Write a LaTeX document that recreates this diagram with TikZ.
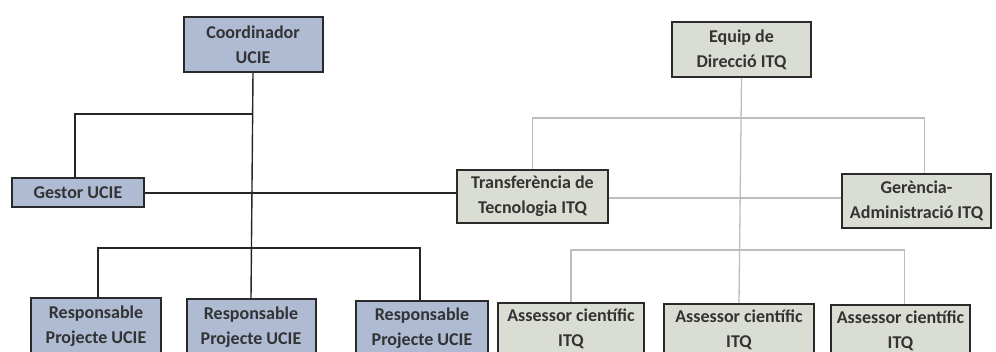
\documentclass[tikz,border=0pt]{standalone}
\usepackage{fontspec}
\setmainfont{Carlito}
\definecolor{bluefill}{HTML}{AEBBD3}
\definecolor{greyfill}{HTML}{D9DDD3}
\definecolor{greyline}{HTML}{BDBDBD}
\definecolor{boxedge}{HTML}{2A2A2A}
\begin{document}
\begin{tikzpicture}[x=1pt,y=-1pt,
  box/.style={draw=boxedge,line width=2pt,align=center,inner sep=0pt,
    font=\fontsize{18}{25}\selectfont\bfseries,text=black!80},
  ucie/.style={box,fill=bluefill},
  itq/.style={box,fill=greyfill},
  darkline/.style={draw=black!85,line width=1.4pt},
  lightline/.style={draw=greyline,line width=1.3pt}]
\clip (0,0) rectangle (996,352);
\fill[white] (0,0) rectangle (996,352);
% left side nodes
\node[ucie,minimum width=139pt,minimum height=55pt] (coord) at (253,44.5) {Coordinador\\UCIE};
\node[ucie,minimum width=132pt,minimum height=29pt] (gestor) at (78,193) {Gestor UCIE};
\node[ucie,minimum width=130pt,minimum height=56pt] (resp1) at (96,326) {Responsable\\Projecte UCIE};
\node[ucie,minimum width=129pt,minimum height=56pt] (resp2) at (251,327) {Responsable\\Projecte UCIE};
\node[ucie,minimum width=132pt,minimum height=54pt] (resp3) at (422,328) {Responsable\\Projecte UCIE};
% right side nodes
\node[itq,minimum width=139pt,minimum height=55pt] (equip) at (741.5,49.5) {Equip de\\Direcció ITQ};
\node[itq,minimum width=151pt,minimum height=53pt] (transf) at (532.5,196.5) {Transferència de\\Tecnologia ITQ};
\node[itq,minimum width=149pt,minimum height=54pt] (geren) at (916.5,201) {Gerència-\\Administració ITQ};
\node[itq,minimum width=146pt,minimum height=52pt] (ass1) at (571,329) {Assessor científic\\ITQ};
\node[itq,minimum width=150pt,minimum height=52pt] (ass2) at (739,330) {Assessor científic\\ITQ};
\node[itq,minimum width=139pt,minimum height=52pt] (ass3) at (900.5,331) {Assessor científic\\ITQ};
% junctions
\coordinate (jl1) at (252,114);
\coordinate (jl2) at (252,248);
\coordinate (jr1) at (740,118);
\coordinate (jr2) at (740,250);
\coordinate (jr3) at (740,198);
% right connectors (behind)
\draw[lightline] (equip.south) -- (ass2.north);
\draw[lightline] (transf.north) |- (jr1) -| ([xshift=8pt]geren.north);
\draw[lightline] (transf.east |- jr3) -- (geren.west |- jr3);
\draw[lightline] (ass1.north) |- (jr2) -| ([xshift=4pt]ass3.north);
% left connectors
\draw[darkline] (coord.south) -- (resp2.north);
\draw[darkline] ([xshift=-3pt]gestor.north) |- (jl1);
\draw[darkline] (gestor.east) -- (gestor.east -| transf.west);
\draw[darkline] ([xshift=2pt]resp1.north) |- (jl2) -| ([xshift=-2pt]resp3.north);
\end{tikzpicture}
\end{document}
